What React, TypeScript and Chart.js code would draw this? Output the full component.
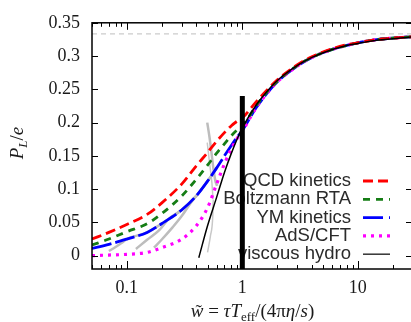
import React, { useEffect, useRef } from 'react';
import { Chart, registerables } from 'chart.js';
Chart.register(...registerables);

// ---------- data ----------
const xGrid = [0.05, 0.07, 0.1, 0.15, 0.2, 0.3, 0.4, 0.5, 0.6, 0.7, 0.8, 0.9, 1.0, 1.3, 1.6, 2, 3, 4, 6, 8, 10, 15, 20, 30];
const qcdKinetics = [0.025, 0.035, 0.047, 0.062, 0.079, 0.108, 0.135, 0.155, 0.172, 0.185, 0.195, 0.202, 0.207, 0.230, 0.247, 0.264, 0.287, 0.299, 0.311, 0.317, 0.320, 0.325, 0.327, 0.329];
const boltzmannRTA = [0.016, 0.025, 0.036, 0.048, 0.063, 0.090, 0.115, 0.136, 0.154, 0.168, 0.180, 0.189, 0.195, 0.224, 0.244, 0.262, 0.286, 0.298, 0.310, 0.316, 0.320, 0.325, 0.327, 0.329];
const ymKinetics = [0.011, 0.017, 0.025, 0.035, 0.048, 0.069, 0.090, 0.112, 0.132, 0.150, 0.165, 0.178, 0.188, 0.221, 0.242, 0.261, 0.285, 0.298, 0.310, 0.316, 0.320, 0.325, 0.327, 0.329];
const adsCft = [0.000, 0.001, 0.002, 0.005, 0.012, 0.025, 0.045, 0.072, 0.108, 0.138, 0.160, 0.176, 0.187, 0.221, 0.242, 0.261, 0.285, 0.298, 0.310, 0.316, 0.320, 0.325, 0.327, 0.329];

const hydroX = [0.42, 0.5, 0.6, 0.7, 0.8, 0.9, 1.0, 1.3, 1.6, 2, 3, 4, 6, 8, 10, 15, 20, 30];
const viscousHydro = [-0.003, 0.045, 0.088, 0.125, 0.153, 0.175, 0.192, 0.225, 0.245, 0.263, 0.286, 0.298, 0.310, 0.316, 0.319, 0.324, 0.326, 0.329];

// grey gradient-expansion curves
const grey0X = [0.07, 0.08, 0.09, 0.1, 0.15, 0.2, 0.3, 0.4, 0.5, 0.6];
const grey0Y = [0.007, 0.013, 0.019, 0.025, 0.035, 0.048, 0.069, 0.090, 0.112, 0.132];
const grey1X = [0.12, 0.15, 0.19, 0.23, 0.3, 0.4, 0.5, 0.6];
const grey1Y = [0.010, 0.024, 0.038, 0.055, 0.069, 0.090, 0.112, 0.132];
const grey2X = [0.172, 0.2, 0.25, 0.3, 0.36, 0.4, 0.5, 0.6];
const grey2Y = [0.012, 0.024, 0.043, 0.060, 0.080, 0.090, 0.112, 0.132];
const grey3X = [0.497, 0.52, 0.545, 0.565, 0.585, 0.605];
const grey3Y = [0.200, 0.178, 0.150, 0.128, 0.112, 0.105];
const grey4X = [0.497, 0.52, 0.545, 0.56, 0.555, 0.53, 0.50];
const grey4Y = [0.170, 0.140, 0.110, 0.085, 0.060, 0.030, 0.005];

const markerX = [1, 1];
const markerY = [-0.02, 0.24];
const conformalX = [0.05, 30];
const conformalY = [0.3333, 0.3333];

const xMajorTicks = [0.1, 1, 10];
const xTickLabels = ['0.1', '1', '10'];
const xMinorTicks = [0.05, 0.06, 0.07, 0.08, 0.09, 0.2, 0.3, 0.4, 0.5, 0.6, 0.7, 0.8, 0.9, 2, 3, 4, 5, 6, 7, 8, 9, 20, 30];
const yTicks = [0, 0.05, 0.1, 0.15, 0.2, 0.25, 0.3, 0.35];
const yTickLabels = ['0', '0.05', '0.1', '0.15', '0.2', '0.25', '0.3', '0.35'];

const legendLabels = ['QCD kinetics', 'Boltzmann RTA', 'YM kinetics', 'AdS/CFT', 'viscous hydro'];
const legendColors = ['#ff0000', '#157d15', '#0000ff', '#ff00ff', '#333333'];
const legendDashes = [[10, 5], [7, 6], [20, 6], [3, 5], []];
const legendWidths = [2.8, 2.8, 2.8, 3.2, 1.5];

const pts = (xs: number[], ys: number[]) => xs.map((x, i) => ({ x, y: ys[i] }));

const SERIF = '"Liberation Serif", "Times New Roman", serif';
const SANS = '"Liberation Sans", Arial, sans-serif';

type Piece = { t: string; style?: string; size?: number; dy?: number };

function drawPieces(ctx: CanvasRenderingContext2D, pieces: Piece[], cx: number, baseY: number) {
  const fontOf = (p: Piece) => `${p.style || ''} ${p.size || 19}px ${SERIF}`;
  let total = 0;
  pieces.forEach((p) => { ctx.font = fontOf(p); total += ctx.measureText(p.t).width; });
  let x = cx - total / 2;
  ctx.textAlign = 'left';
  ctx.textBaseline = 'alphabetic';
  pieces.forEach((p) => {
    ctx.font = fontOf(p);
    const w = ctx.measureText(p.t).width;
    ctx.fillText(p.t, x, baseY + (p.dy || 0));
    if (p.t === 'w' && p.style === 'italic') {
      ctx.font = `${p.size || 19}px ${SERIF}`;
      ctx.textAlign = 'center';
      ctx.fillText('\u02DC', x + w / 2 + 1.5, baseY + 1);
      ctx.textAlign = 'left';
    }
    x += w;
  });
}

const framePlugin = {
  id: 'framePlugin',
  beforeDatasetsDraw(chart: any) {
    const { ctx, chartArea: a } = chart;
    ctx.save();
    ctx.font = `18.5px ${SANS}`;
    ctx.textAlign = 'right';
    ctx.textBaseline = 'middle';
    const textRight = a.right - 62;
    const s0 = a.right - 50;
    const s1 = a.right - 23;
    legendLabels.forEach((lab, i) => {
      const y = a.bottom - 88 + i * 18.3;
      ctx.fillStyle = '#2b2b2b';
      ctx.fillText(lab, textRight, y);
      ctx.strokeStyle = legendColors[i];
      ctx.lineWidth = legendWidths[i];
      ctx.setLineDash(legendDashes[i]);
      ctx.beginPath();
      ctx.moveTo(s0, y);
      ctx.lineTo(s1, y);
      ctx.stroke();
    });
    ctx.restore();
  },
  afterDraw(chart: any) {
    const { ctx, chartArea: a, scales } = chart;
    const xs = scales.x;
    const ys = scales.y;
    ctx.save();
    ctx.setLineDash([]);
    ctx.strokeStyle = '#000';
    ctx.lineWidth = 1.5;
    ctx.strokeRect(a.left, a.top, a.right - a.left, a.bottom - a.top);
    ctx.lineWidth = 1;
    ctx.beginPath();
    xMajorTicks.forEach((v) => {
      const px = Math.round(xs.getPixelForValue(v)) + 0.5;
      ctx.moveTo(px, a.bottom); ctx.lineTo(px, a.bottom - 8);
      ctx.moveTo(px, a.top); ctx.lineTo(px, a.top + 7);
    });
    xMinorTicks.forEach((v) => {
      const px = Math.round(xs.getPixelForValue(v)) + 0.5;
      ctx.moveTo(px, a.bottom); ctx.lineTo(px, a.bottom - 4);
      ctx.moveTo(px, a.top); ctx.lineTo(px, a.top + 4);
    });
    yTicks.forEach((v) => {
      const py = Math.round(ys.getPixelForValue(v)) + 0.5;
      ctx.moveTo(a.left, py); ctx.lineTo(a.left + 6, py);
      ctx.moveTo(a.right, py); ctx.lineTo(a.right - 7, py);
    });
    ctx.stroke();

    // axis titles
    ctx.fillStyle = '#1a1a1a';
    drawPieces(ctx, [
      { t: 'w', style: 'italic' },
      { t: ' = ' },
      { t: '\u03C4', style: 'italic' },
      { t: 'T', style: 'italic' },
      { t: 'eff', size: 13, dy: 4 },
      { t: '/(4\u03C0' },
      { t: '\u03B7', style: 'italic' },
      { t: '/' },
      { t: 's', style: 'italic' },
      { t: ')' },
    ], (a.left + a.right) / 2, 317);

    ctx.translate(23, 143);
    ctx.rotate(-Math.PI / 2);
    drawPieces(ctx, [
      { t: 'P', style: 'italic' },
      { t: 'L', style: 'italic', size: 13, dy: 4 },
      { t: '/' },
      { t: 'e', style: 'italic' },
    ], 0, 0);
    ctx.restore();
  },
};

export default function App() {
  const ref = useRef<HTMLCanvasElement>(null);
  useEffect(() => {
    if (!ref.current) return;
    const grey = '#bdbdbd';
    const line = (data: any[], color: string, width: number, dash: number[] = [], extra: any = {}) => ({
      data, borderColor: color, borderWidth: width, borderDash: dash, pointRadius: 0,
      fill: false, cubicInterpolationMode: 'monotone', borderCapStyle: 'butt', ...extra,
    });
    const chart = new Chart(ref.current, {
      type: 'line',
      data: {
        datasets: [
          line(pts(markerX, markerY), '#000', 5, [], { cubicInterpolationMode: 'default', tension: 0 }),
          line(pts(hydroX, viscousHydro), '#000', 1.5),
          line(pts(xGrid, qcdKinetics), '#ff0000', 2.8, [10, 5]),
          line(pts(xGrid, boltzmannRTA), '#157d15', 2.8, [7, 6]),
          line(pts(xGrid, adsCft), '#ff00ff', 3.2, [3, 5]),
          line(pts(xGrid, ymKinetics), '#0000ff', 2.8, [20, 4]),
          line(pts(grey0X, grey0Y), grey, 2.5),
          line(pts(grey1X, grey1Y), grey, 2.5),
          line(pts(grey2X, grey2Y), grey, 2.5),
          line(pts(grey3X, grey3Y), grey, 2.5, { cubicInterpolationMode: 'default', tension: 0.3 }),
          line(pts(grey4X, grey4Y), '#c8c8c8', 1.5, { cubicInterpolationMode: 'default', tension: 0.3 }),
          line(pts(conformalX, conformalY), '#cccccc', 1.3, [5, 4], { cubicInterpolationMode: 'default', tension: 0 }),
        ],
      },
      options: {
        responsive: false,
        animation: false,
        devicePixelRatio: 1,
        layout: { padding: { top: 17, right: 7, left: 0, bottom: 0 } },
        plugins: { legend: { display: false }, tooltip: { enabled: false } },
        scales: {
          x: {
            type: 'logarithmic',
            min: 0.05,
            max: 30,
            grid: { display: false, drawTicks: false },
            border: { display: false },
            afterBuildTicks: (s: any) => { s.ticks = xMajorTicks.map((v) => ({ value: v, major: true })); },
            afterFit: (s: any) => { s.height = 53; },
            ticks: {
              autoSkip: false,
              maxRotation: 0,
              padding: 8,
              color: '#1a1a1a',
              font: { family: SERIF, size: 18 },
              callback: (_v: any, i: number) => xTickLabels[i],
            },
          },
          y: {
            type: 'linear',
            min: -0.02,
            max: 0.35,
            grid: { display: false, drawTicks: false },
            border: { display: false },
            afterBuildTicks: (s: any) => { s.ticks = yTicks.map((v) => ({ value: v })); },
            afterFit: (s: any) => { s.width = 92; },
            ticks: {
              padding: 12,
              color: '#1a1a1a',
              font: { family: SERIF, size: 18 },
              callback: (_v: any, i: number) => yTickLabels[i],
            },
          },
        },
      } as any,
      plugins: [framePlugin],
    });
    return () => chart.destroy();
  }, []);

  return (
    <div style={{ position: 'fixed', left: 0, top: 0, width: 411, height: 322, overflow: 'hidden', background: '#fff' }}>
      <canvas ref={ref} width={420} height={322} style={{ width: 420, height: 322, display: 'block' }} />
    </div>
  );
}
